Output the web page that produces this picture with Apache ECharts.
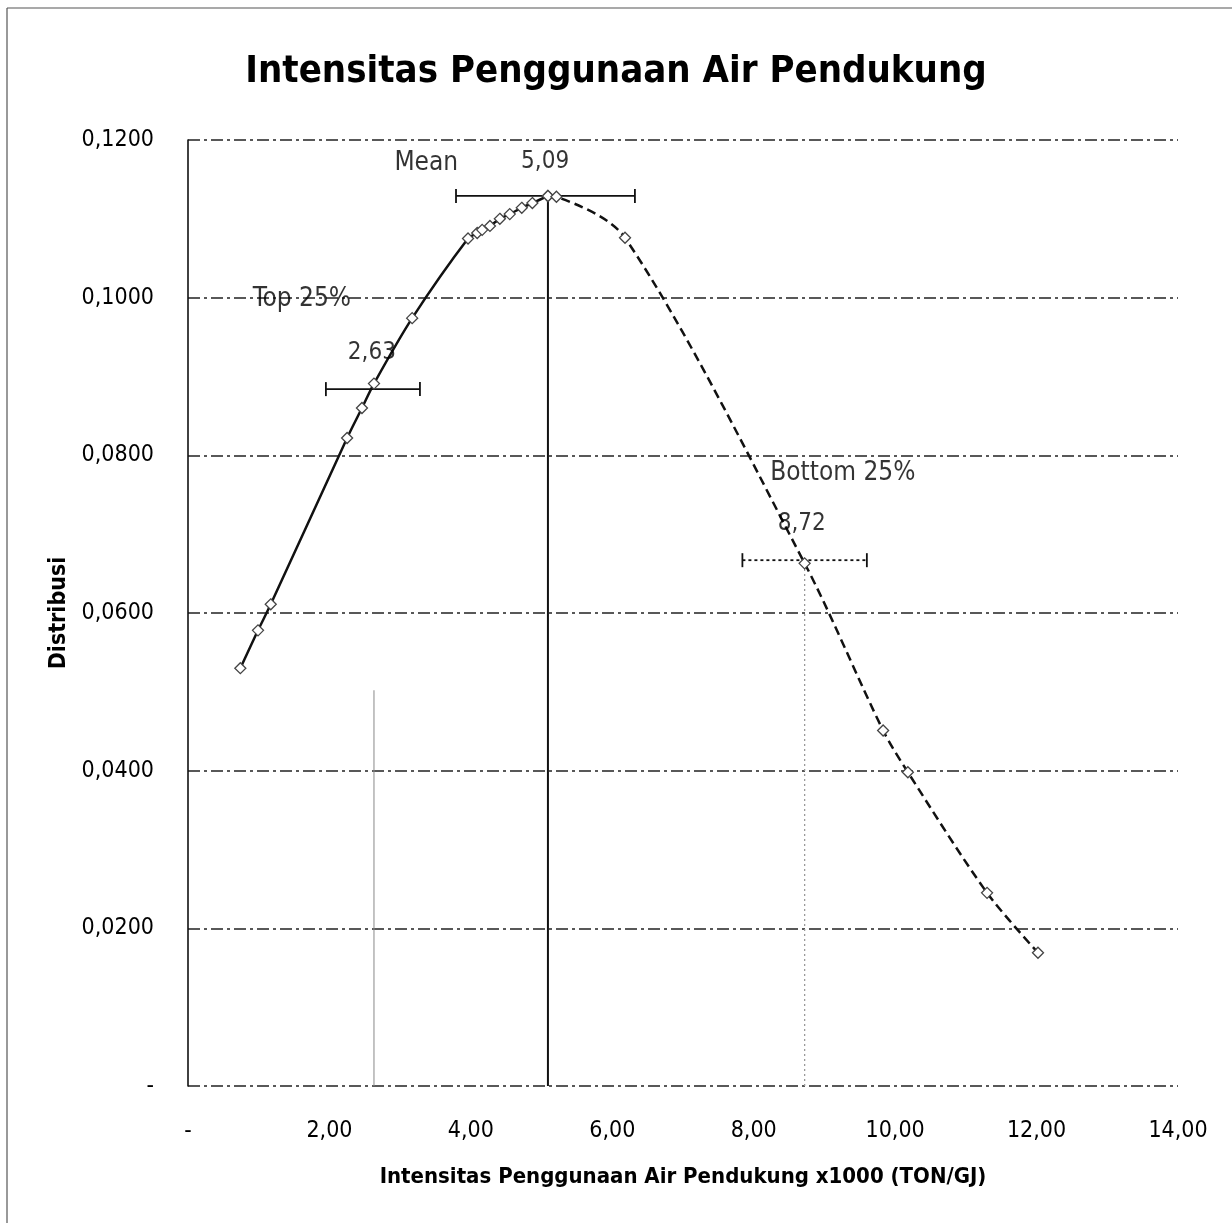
<!DOCTYPE html>
<html>
<head>
<meta charset="utf-8">
<script src="https://cdn.jsdelivr.net/npm/echarts@6/dist/echarts.min.js"></script>
<style>html,body{margin:0;padding:0;background:#fff}#c{width:1232px;height:1223px}</style>
</head>
<body>
<div id="c"></div>
<script>
// ---- data ----
const leftX = [0.74, 0.99, 1.17, 2.25, 2.46, 2.63, 3.17, 3.96, 4.09, 4.16, 4.27, 4.41, 4.55, 4.72, 4.87, 5.09];
const leftY = [0.0530, 0.0578, 0.0611, 0.0822, 0.0860, 0.0891, 0.0974, 0.1075, 0.1082, 0.1086, 0.1091, 0.1100, 0.1106, 0.1114, 0.1120, 0.1129];
const rightX = [5.09, 5.21, 6.18, 8.72, 9.83, 10.18, 11.30, 12.02];
const rightY = [0.1129, 0.1128, 0.1076, 0.0663, 0.0451, 0.0398, 0.0245, 0.0169];

const vlineX = [5.09, 2.63, 8.72];
const vlineTop = [0.1129, 0.0502, 0.0663];

const errY = [0.1129, 0.0884, 0.0667];
const errLow = [3.79, 1.95, 7.84];
const errHigh = [6.32, 3.28, 9.60];

const annText = ['Mean', '5,09', 'Top 25%', '2,63', 'Bottom 25%', '8,72'];
const annX = [3.37, 5.05, 1.61, 2.60, 9.26, 8.68];
const annY = [0.1170, 0.1173, 0.0998, 0.0930, 0.0777, 0.0713];

const xTicks = [0, 2, 4, 6, 8, 10, 12, 14];
const yTicks = [0, 0.02, 0.04, 0.06, 0.08, 0.10, 0.12];

const FONT = "'DejaVu Sans Condensed', 'Liberation Sans', sans-serif";

function fmt(v, d) { return v === 0 ? '-' : v.toFixed(d).replace('.', ','); }

const chart = echarts.init(document.getElementById('c'), null, {renderer: 'canvas'});
const option = {
  animation: false,
  backgroundColor: '#fff',
  textStyle: {fontFamily: FONT},
  title: {
    text: 'Intensitas Penggunaan Air Pendukung',
    left: 'center', top: 48,
    textStyle: {fontFamily: FONT, fontSize: 38, fontWeight: 'bold', color: '#000'}
  },
  graphic: [
    {type: 'line', shape: {x1: 7, y1: 8, x2: 1232, y2: 8}, style: {stroke: '#555', lineWidth: 1.2}},
    {type: 'line', shape: {x1: 7, y1: 8, x2: 7, y2: 1223}, style: {stroke: '#555', lineWidth: 1.2}}
  ],
  grid: {left: 188, right: 54, top: 140, bottom: 137, containLabel: false},
  xAxis: {
    type: 'value', min: xTicks[0], max: xTicks[xTicks.length - 1], interval: 2,
    name: 'Intensitas Penggunaan Air Pendukung x1000 (TON/GJ)',
    nameLocation: 'middle', nameGap: 80,
    nameTextStyle: {fontFamily: FONT, fontSize: 22, fontWeight: 'bold', color: '#000'},
    axisLine: {show: false}, axisTick: {show: false}, splitLine: {show: false},
    axisLabel: {fontFamily: FONT, fontSize: 23, color: '#000', margin: 34, formatter: v => fmt(v, 2)}
  },
  yAxis: {
    type: 'value', min: yTicks[0], max: yTicks[yTicks.length - 1], interval: 0.02,
    name: 'Distribusi', nameLocation: 'middle', nameGap: 108, nameRotate: 90,
    nameTextStyle: {fontFamily: FONT, fontSize: 23, fontWeight: 'bold', color: '#000'},
    axisLine: {show: true, lineStyle: {color: '#111', width: 1.6}},
    axisTick: {show: false},
    splitLine: {show: true, lineStyle: {color: '#222', width: 1.5, type: [12, 4, 3, 4]}},
    axisLabel: {fontFamily: FONT, fontSize: 23, color: '#000', margin: 34, formatter: v => fmt(v, 4)}
  },
  series: [
    {
      type: 'line', name: 'q1', data: [[vlineX[1], 0], [vlineX[1], vlineTop[1]]],
      symbol: 'none', lineStyle: {color: '#888', width: 1}, z: 2
    },
    {
      type: 'line', name: 'q3', data: [[vlineX[2], 0], [vlineX[2], vlineTop[2]]],
      symbol: 'none', lineStyle: {color: '#999', width: 1.3, type: [2, 3]}, z: 2
    },
    {
      type: 'line', name: 'mean', data: [[vlineX[0], 0], [vlineX[0], vlineTop[0]]],
      symbol: 'none', lineStyle: {color: '#111', width: 2}, z: 2
    },
    {
      type: 'custom', name: 'err',
      data: errY.map((y, i) => [errLow[i], y, errHigh[i], i]),
      encode: {x: [0, 2], y: 1},
      z: 3,
      renderItem: function (params, api) {
        const lo = api.value(0), y = api.value(1), hi = api.value(2), idx = api.value(3);
        const p1 = api.coord([lo, y]), p2 = api.coord([hi, y]);
        const h = 7;
        const dash = idx === 2 ? [3, 3] : null;
        const st = {stroke: '#111', lineWidth: 1.8, lineDash: dash};
        const cap = {stroke: '#111', lineWidth: 1.8};
        return {type: 'group', children: [
          {type: 'line', shape: {x1: p1[0], y1: p1[1], x2: p2[0], y2: p2[1]}, style: st},
          {type: 'line', shape: {x1: p1[0], y1: p1[1] - h, x2: p1[0], y2: p1[1] + h}, style: cap},
          {type: 'line', shape: {x1: p2[0], y1: p2[1] - h, x2: p2[0], y2: p2[1] + h}, style: cap}
        ]};
      }
    },
    {
      type: 'line', name: 'left', smooth: 0.3,
      data: leftX.map((x, i) => [x, leftY[i]]),
      lineStyle: {color: '#111', width: 2.5},
      symbol: 'diamond', symbolSize: 11,
      itemStyle: {color: '#fff', borderColor: '#444', borderWidth: 1.3},
      z: 4
    },
    {
      type: 'line', name: 'right', smooth: 0.3,
      data: rightX.map((x, i) => [x, rightY[i]]),
      lineStyle: {color: '#111', width: 2.5, type: [9, 5]},
      symbol: 'diamond', symbolSize: 11,
      itemStyle: {color: '#fff', borderColor: '#444', borderWidth: 1.3},
      z: 4
    },
    {
      type: 'scatter', name: 'ann',
      data: annX.map((x, i) => ({
        value: [x, annY[i]], name: annText[i],
        label: {fontSize: /\d,\d/.test(annText[i]) ? 24 : 26}
      })),
      symbolSize: 0, silent: true, z: 6,
      label: {
        show: true, position: 'inside', formatter: p => p.name,
        fontFamily: FONT, color: '#000', textBorderWidth: 0
      }
    }
  ]
};
chart.setOption(option);
</script>
</body>
</html>
